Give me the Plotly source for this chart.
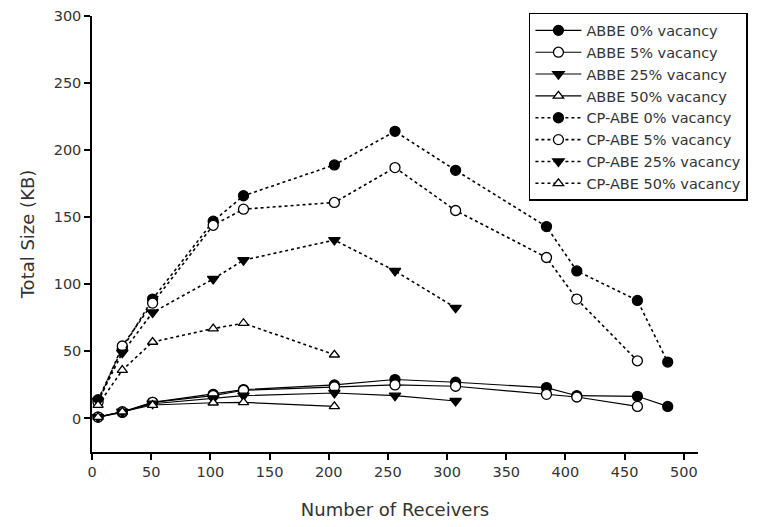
import plotly.graph_objects as go

x_all = [5.12, 25.6, 51.2, 102.4, 128, 204.8, 256, 307.2, 384, 409.6, 460.8, 486.4]

abbe_0 = [1, 4.5, 12, 18, 21.5, 25, 29, 27, 23, 17, 16.5, 9]
abbe_5 = [1, 5, 12, 17, 21, 23.5, 25, 24, 18, 16, 9]
abbe_25 = [1, 5, 11, 15, 17, 19, 17, 13]
abbe_50 = [1, 5, 10, 11.7, 12, 9]

cp_0 = [14, 52, 89, 147, 166, 189, 214, 185, 143, 110, 88, 42]
cp_5 = [12, 54, 86, 144, 156, 161, 187, 155, 120, 89, 43]
cp_25 = [13, 49, 79, 104, 118, 133, 110, 82.5]
cp_50 = [10, 36, 57, 67, 71, 47.5]

names = ["ABBE 0% vacancy", "ABBE 5% vacancy", "ABBE 25% vacancy", "ABBE 50% vacancy",
         "CP-ABE 0% vacancy", "CP-ABE 5% vacancy", "CP-ABE 25% vacancy", "CP-ABE 50% vacancy"]
series = [abbe_0, abbe_5, abbe_25, abbe_50, cp_0, cp_5, cp_25, cp_50]

symbols = ["circle", "circle", "triangle-down", "triangle-up"] * 2
fills = ["black", "white", "black", "white"] * 2
sizes = [10, 10, 10, 9] * 2

FONT = "DejaVu Sans, Verdana, sans-serif"

fig = go.Figure()
for i, (nm, ys) in enumerate(zip(names, series)):
    dotted = i >= 4
    fig.add_trace(go.Scatter(
        x=x_all[:len(ys)], y=ys, name=nm, mode="lines+markers",
        line=dict(color="black", width=1.6 if dotted else 1.1, dash="dot" if dotted else "solid"),
        marker=dict(symbol=symbols[i], size=sizes[i], color=fills[i],
                    line=dict(color="black", width=1.3)),
    ))

axis_font = dict(family=FONT, size=14.5, color="#333")
title_font = dict(family=FONT, size=18, color="#333")
fig.update_layout(
    width=760, height=527,
    margin=dict(l=92, r=62, t=16, b=75, autoexpand=False),
    paper_bgcolor="white", plot_bgcolor="white",
    showlegend=True,
    legend=dict(x=0.721, y=1.007, xanchor="left", yanchor="top",
                bgcolor="white", bordercolor="black", borderwidth=1.5,
                font=dict(family=FONT, size=14.5, color="#333"),
                itemwidth=46, tracegroupgap=0),
    xaxis=dict(range=[0, 512], tickvals=[0, 50, 100, 150, 200, 250, 300, 350, 400, 450, 500],
               showline=True, linecolor="black", linewidth=1.5, ticks="outside",
               ticklen=6, tickwidth=1.5, tickcolor="black", showgrid=False, zeroline=False,
               tickfont=axis_font, automargin=False,
               title=dict(text="Number of Receivers", standoff=24, font=title_font)),
    yaxis=dict(range=[-25, 300], tickvals=[0, 50, 100, 150, 200, 250, 300],
               showline=True, linecolor="black", linewidth=1.5, ticks="outside",
               ticklen=6, tickwidth=1.5, tickcolor="black", showgrid=False, zeroline=False,
               tickfont=axis_font, automargin=False,
               title=dict(text="Total Size (KB)", standoff=14, font=title_font)),
)

fig.write_html("out.html")
